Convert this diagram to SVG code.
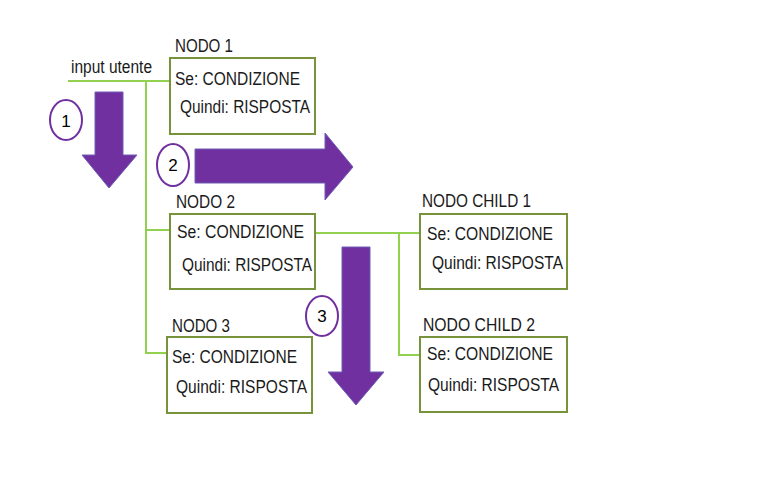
<svg xmlns="http://www.w3.org/2000/svg" width="783" height="497" viewBox="0 0 783 497">
<style>
.box{fill:#fff;stroke:#77933C;stroke-width:2}
.ln{fill:none;stroke:#92D050;stroke-width:2}
.t{font-family:"Liberation Sans",Arial,sans-serif;font-size:18px;fill:#1a1a1a}
.arr{fill:#7030A0;stroke:#6F5FB5;stroke-width:1}
.c{fill:#fff;stroke:#7030A0;stroke-width:2}
.n{font-family:"Liberation Sans",Arial,sans-serif;font-size:17px;fill:#000;text-anchor:middle}
</style>
<rect width="783" height="497" fill="#fff"/>
<g id="connectors">
<path class="ln" d="M68 81H170M146 81V353H167M146 230H170M315 233H420M399 233V355H420"/>
</g>
<text class="t" x="71" y="73" font-size="15" textLength="81" lengthAdjust="spacingAndGlyphs">input utente</text>
<g id="nodo1">
<rect class="box" x="170" y="58" width="145" height="76"/>
<text class="t" x="175" y="52" textLength="58" lengthAdjust="spacingAndGlyphs">NODO 1</text>
<text class="t" x="175" y="85" textLength="125" lengthAdjust="spacingAndGlyphs">Se: CONDIZIONE</text>
<text class="t" x="180" y="113" textLength="130" lengthAdjust="spacingAndGlyphs">Quindi: RISPOSTA</text>
</g>
<g id="nodo2">
<rect class="box" x="170" y="214" width="145" height="75"/>
<text class="t" x="176" y="208" textLength="59" lengthAdjust="spacingAndGlyphs">NODO 2</text>
<text class="t" x="177" y="238" textLength="127" lengthAdjust="spacingAndGlyphs">Se: CONDIZIONE</text>
<text class="t" x="182" y="271" textLength="130" lengthAdjust="spacingAndGlyphs">Quindi: RISPOSTA</text>
</g>
<g id="nodo3">
<rect class="box" x="167" y="337" width="145" height="76"/>
<text class="t" x="172" y="332" textLength="58" lengthAdjust="spacingAndGlyphs">NODO 3</text>
<text class="t" x="172" y="363" textLength="125" lengthAdjust="spacingAndGlyphs">Se: CONDIZIONE</text>
<text class="t" x="176" y="393" textLength="131" lengthAdjust="spacingAndGlyphs">Quindi: RISPOSTA</text>
</g>
<g id="child1">
<rect class="box" x="420" y="214" width="147" height="75"/>
<text class="t" x="422" y="207" textLength="109" lengthAdjust="spacingAndGlyphs">NODO CHILD 1</text>
<text class="t" x="427" y="240" textLength="126" lengthAdjust="spacingAndGlyphs">Se: CONDIZIONE</text>
<text class="t" x="432" y="269" textLength="131" lengthAdjust="spacingAndGlyphs">Quindi: RISPOSTA</text>
</g>
<g id="child2">
<rect class="box" x="420" y="337" width="147" height="75"/>
<text class="t" x="423" y="331" textLength="112" lengthAdjust="spacingAndGlyphs">NODO CHILD 2</text>
<text class="t" x="427" y="360" textLength="126" lengthAdjust="spacingAndGlyphs">Se: CONDIZIONE</text>
<text class="t" x="428" y="391" textLength="131" lengthAdjust="spacingAndGlyphs">Quindi: RISPOSTA</text>
</g>
<g id="step1">
<path class="arr" d="M95 92H123V155H137L109 188L82 155H95Z"/>
<ellipse class="c" cx="66" cy="120" rx="16" ry="20"/>
<text class="n" x="66" y="127" font-size="20">1</text>
</g>
<g id="step2">
<path class="arr" d="M195 149H325V133L353 167L325 200V183H195Z"/>
<ellipse class="c" cx="173" cy="165" rx="16" ry="21"/>
<text class="n" x="173" y="171">2</text>
</g>
<g id="step3">
<path class="arr" d="M342 247H370V372H384L356 405L328 372H342Z"/>
<ellipse class="c" cx="322" cy="316" rx="16" ry="20"/>
<text class="n" x="322" y="322">3</text>
</g>
</svg>
